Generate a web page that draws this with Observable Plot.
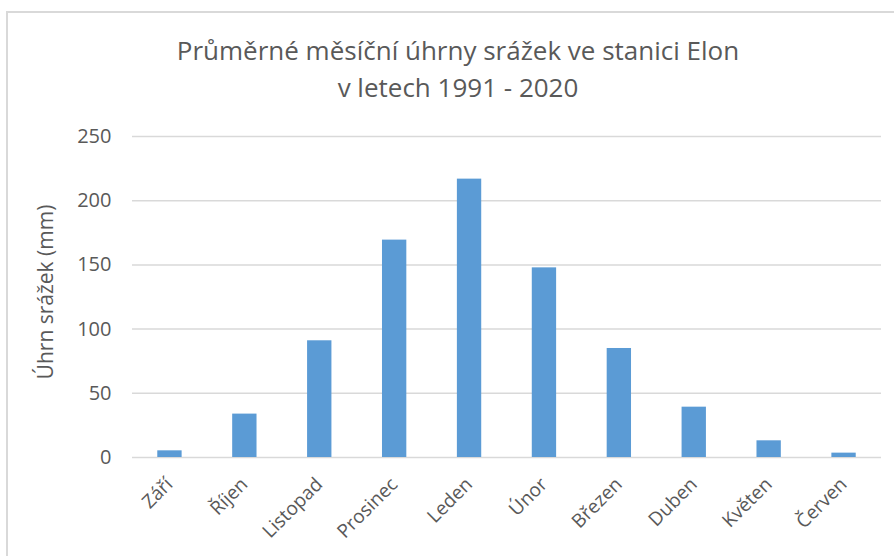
<!DOCTYPE html>
<html>
<head>
<meta charset="utf-8">
<script src="https://cdn.jsdelivr.net/npm/d3@7"></script>
<script src="https://cdn.jsdelivr.net/npm/@observablehq/plot@0.6"></script>
<style>
  html, body { margin: 0; padding: 0; background: #fff; }
  #wrap { position: relative; width: 894px; height: 556px; overflow: hidden; font-family: "Open Sans", "Noto Sans", sans-serif; }
  #frame { position: absolute; left: 6px; top: 11px; width: 900px; height: 560px; border: 2px solid #d9d9d9; box-sizing: border-box; }
  #title { position: absolute; left: 0; top: 32px; width: 916px; text-align: center; font-size: 26px; line-height: 37px; color: #595959; }
  #chart { position: absolute; left: 0; top: 0; }
  #ytitle { position: absolute; left: 45px; top: 292px; transform: translate(-50%, -50%) rotate(-90deg); font-size: 21px; color: #595959; white-space: nowrap; }
</style>
</head>
<body>
<div id="wrap">
  <div id="frame"></div>
  <div id="chart"></div>
  <div id="title">Průměrné měsíční úhrny srážek ve stanici Elon<br>v letech 1991 - 2020</div>
  <div id="ytitle">Úhrn srážek (mm)</div>
</div>
<script>
const months = ["Září", "Říjen", "Listopad", "Prosinec", "Leden", "Únor", "Březen", "Duben", "Květen", "Červen"];
const precip = [5.2, 33.8, 90.9, 169.3, 216.8, 147.7, 84.9, 39.2, 13.0, 3.4];
const yTicks = [0, 50, 100, 150, 200, 250];

const data = months.map((m, i) => ({month: m, value: precip[i]}));

const chart = Plot.plot({
  width: 894,
  height: 556,
  marginLeft: 132,
  marginRight: 13,
  marginTop: 136,
  marginBottom: 99,
  style: {fontFamily: "'Open Sans', 'Noto Sans', sans-serif", color: "#595959", background: "transparent"},
  x: {domain: months, paddingInner: 0.675, paddingOuter: 0.3375, align: 0.5, round: false, axis: null},
  y: {domain: [0, 250], axis: null},
  marks: [
    Plot.ruleY(yTicks, {stroke: "#d9d9d9", strokeWidth: 1.5, strokeOpacity: 1}),
    Plot.barY(data, {x: "month", y: "value", fill: "#5b9bd5"}),
    Plot.text(yTicks, {y: d => d, text: d => String(d), frameAnchor: "left", textAnchor: "end", dx: -21, fontSize: 20, fill: "#595959"}),
    Plot.text(months, {x: d => d, text: d => d, frameAnchor: "bottom", rotate: -45, textAnchor: "end", dy: 28, dx: 4, fontSize: 19, fill: "#595959"})
  ]
});
document.getElementById("chart").appendChild(chart);
</script>
</body>
</html>
